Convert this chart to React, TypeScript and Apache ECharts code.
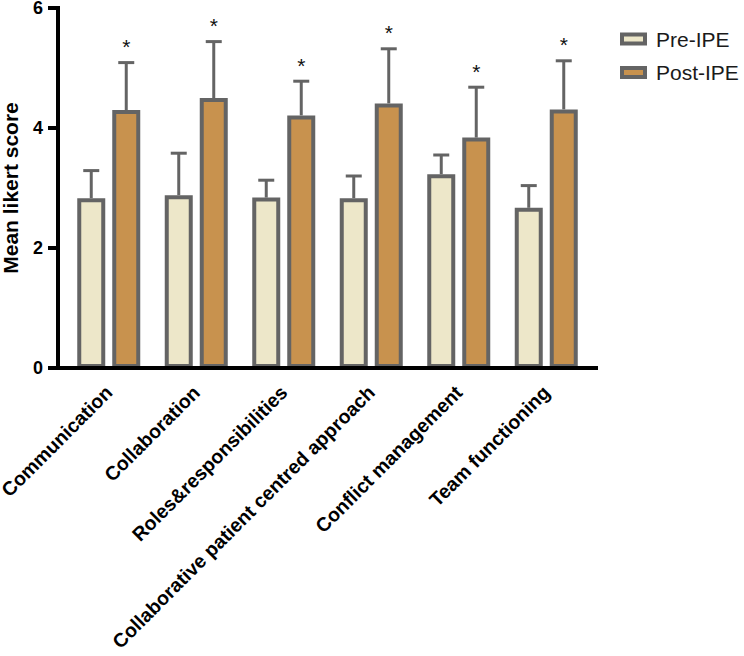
import React, { useEffect, useRef } from "react";
import * as echarts from "echarts";

const categories = [
  "Communication",
  "Collaboration",
  "Roles&responsibilities",
  "Collaborative patient centred approach",
  "Conflict management",
  "Team functioning",
];
const preMean = [2.83, 2.88, 2.84, 2.83, 3.23, 2.67];
const preSD = [0.46, 0.7, 0.29, 0.37, 0.32, 0.37];
const postMean = [4.3, 4.5, 4.21, 4.41, 3.84, 4.31];
const postSD = [0.79, 0.94, 0.57, 0.91, 0.84, 0.81];
const postSignificant = [true, true, true, true, true, true];
const seriesNames = ["Pre-IPE", "Post-IPE"];
const yMin = 0;
const yMax = 6;
const yInterval = 2;

const FONT = "'Liberation Sans', Arial, Helvetica, sans-serif";
const PRE_COLOR = "#ede7c9";
const POST_COLOR = "#c8924e";
const EDGE = "#646464";
const BAR_WIDTH = 28;
const BAR_GAP = 0.25;
const HALF_OFFSET = (BAR_WIDTH * (1 + BAR_GAP)) / 2;

function errorSeries(name: string, means: number[], sds: number[], sign: number, stars: boolean[] | null) {
  return {
    name,
    type: "custom",
    z: 5,
    data: means.map((m, i) => [i, m, m + sds[i], stars && stars[i] ? 1 : 0]),
    encode: { x: 0, y: [1, 2] },
    renderItem: (params: any, api: any) => {
      const i = api.value(0);
      const mean = api.value(1);
      const upper = api.value(2);
      const star = api.value(3);
      const base = api.coord([i, mean]);
      const top = api.coord([i, upper]);
      const x = base[0] + sign * HALF_OFFSET;
      const children: any[] = [
        {
          type: "line",
          shape: { x1: x, y1: base[1], x2: x, y2: top[1] },
          style: { stroke: EDGE, lineWidth: 3 },
        },
        {
          type: "line",
          shape: { x1: x - 8, y1: top[1], x2: x + 8, y2: top[1] },
          style: { stroke: EDGE, lineWidth: 3 },
        },
      ];
      if (star) {
        children.push({
          type: "text",
          style: {
            text: "*",
            x,
            y: top[1] - 16,
            textAlign: "center",
            textVerticalAlign: "middle",
            fontSize: 21,
            fontFamily: FONT,
            fill: "#111",
          },
        });
      }
      return { type: "group", children };
    },
  };
}

export default function App() {
  const ref = useRef<HTMLDivElement>(null);
  useEffect(() => {
    if (!ref.current) return;
    const chart = echarts.init(ref.current, undefined, { renderer: "svg" });
    chart.setOption({
      animation: false,
      backgroundColor: "#ffffff",
      textStyle: { fontFamily: FONT },
      grid: { left: 65, width: 525, top: 8, bottom: 288, containLabel: false, outerBoundsMode: "none" },
      legend: {
        data: seriesNames,
        orient: "vertical",
        left: 615,
        top: 23,
        icon: "rect",
        itemWidth: 23,
        itemHeight: 9,
        itemGap: 11.5,
        itemStyle: { borderColor: EDGE, borderWidth: 4 },
        textStyle: { fontSize: 21, color: "#1a1a1a", fontFamily: FONT, lineHeight: 22, padding: [0, 0, 0, 6] },
      },
      xAxis: {
        type: "category",
        data: categories,
        axisLine: { show: false },
        axisTick: { show: false },
        axisLabel: {
          rotate: 45,
          interval: 0,
          margin: 21,
          fontSize: 19.5,
          fontWeight: "bold",
          color: "#000",
          fontFamily: FONT,
        },
      },
      yAxis: {
        type: "value",
        min: yMin,
        max: yMax,
        interval: yInterval,
        offset: 7,
        name: "Mean likert score",
        nameLocation: "middle",
        nameGap: 37,
        nameTextStyle: { fontSize: 21, fontWeight: "bold", color: "#000", fontFamily: FONT },
        splitLine: { show: false },
        axisLine: { show: true, lineStyle: { color: "#000", width: 4, cap: "square" } },
        axisTick: { show: true, length: 10, lineStyle: { color: "#000", width: 4 } },
        axisLabel: { margin: 15, fontSize: 18, fontWeight: "bold", color: "#000", fontFamily: FONT, padding: [4, 0, 0, 0] },
      },
      graphic: [
        {
          type: "line",
          z: 100,
          shape: { x1: 58, y1: 368, x2: 598, y2: 368 },
          style: { stroke: "#000", lineWidth: 4 },
        },
      ],
      series: [
        {
          name: seriesNames[0],
          type: "bar",
          data: preMean,
          barWidth: BAR_WIDTH,
          barGap: `${BAR_GAP * 100}%`,
          itemStyle: { color: PRE_COLOR, borderColor: EDGE, borderWidth: 4 },
        },
        {
          name: seriesNames[1],
          type: "bar",
          data: postMean,
          barWidth: BAR_WIDTH,
          barGap: `${BAR_GAP * 100}%`,
          itemStyle: { color: POST_COLOR, borderColor: EDGE, borderWidth: 4 },
        },
        errorSeries("Pre-IPE SD", preMean, preSD, -1, null),
        errorSeries("Post-IPE SD", postMean, postSD, 1, postSignificant),
      ],
    });
    return () => chart.dispose();
  }, []);
  return (
    <div
      ref={ref}
      style={{ position: "fixed", left: 0, top: 0, width: 744, height: 656 }}
    />
  );
}
